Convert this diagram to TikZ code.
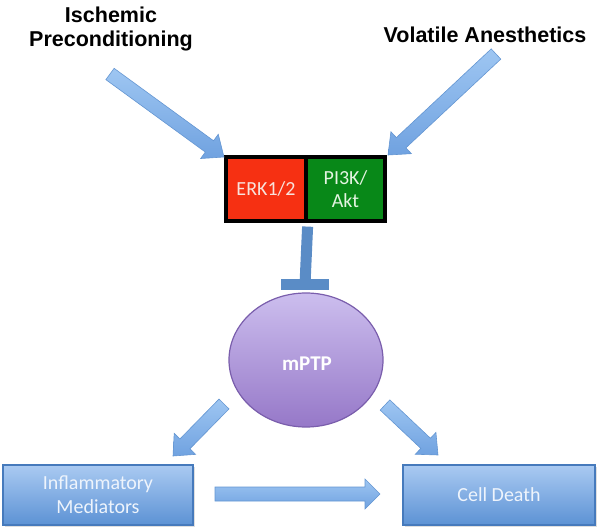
\documentclass[tikz,border=0pt]{standalone}
\usepackage{fontspec}
\setmainfont{Carlito}
\newfontfamily\hvb{Liberation Sans}
\usetikzlibrary{calc,shapes.geometric,shadows}
\definecolor{arrtop}{RGB}{158,198,242}
\definecolor{arrbot}{RGB}{112,162,224}
\definecolor{arredge}{RGB}{100,150,210}
\definecolor{boxtop}{RGB}{170,202,242}
\definecolor{boxbot}{RGB}{92,146,212}
\definecolor{boxedge}{RGB}{70,122,188}
\definecolor{boxtext}{RGB}{238,244,252}
\definecolor{elltop}{RGB}{204,190,238}
\definecolor{ellbot}{RGB}{150,120,200}
\definecolor{elledge}{RGB}{122,94,172}
\definecolor{erkred}{RGB}{246,48,18}
\definecolor{pigreen}{RGB}{8,136,24}
\definecolor{tbarblue}{RGB}{90,140,198}
\tikzset{
  barrow/.style={top color=arrtop, bottom color=arrbot, draw=arredge, line width=0.6pt, line join=miter},
  bbox/.style={rectangle, top color=boxtop, bottom color=boxbot, draw=boxedge, line width=1.2pt,
    text=boxtext, align=center, font=\fontsize{20}{24}\selectfont,
    drop shadow={opacity=0.25, shadow xshift=1.5pt, shadow yshift=-1.5pt}},
  kbox/.style={rectangle, draw=black, line width=3.2pt, minimum height=64pt, align=center,
    font=\fontsize{20}{23}\selectfont},
  tbar/.style={draw=tbarblue, line width=11pt},
  title/.style={font=\hvb\bfseries\fontsize{21.5}{24}\selectfont, align=center, inner sep=0pt}
}
\newcommand\blockarr[3]{%
  \coordinate (tmpN) at ($(#2)!#3!(#1)$);
  \shade[barrow] ($(#1)!7pt!90:(#2)$) -- ($(tmpN)!7pt!90:(#2)$) -- ($(tmpN)!15pt!90:(#2)$) -- (#2)
    -- ($(tmpN)!15pt!-90:(#2)$) -- ($(tmpN)!7pt!-90:(#2)$) -- ($(#1)!7pt!-90:(#2)$) -- cycle;}
\begin{document}
\begin{tikzpicture}[x=1pt,y=-1pt]
\useasboundingbox (0,0) rectangle (600,530);
% titles
\node[title] (isch) at (111,29) {Ischemic\\Preconditioning};
\node[title, anchor=base] (vol) at (485,42) {Volatile Anesthetics};
% kinase box
\node[kbox, fill=erkred, text={rgb,255:red,248;green,226;blue,220}, minimum width=80pt] (erk) at (266,189) {ERK1/2};
\node[kbox, fill=pigreen, text={rgb,255:red,228;green,244;blue,226}, minimum width=79pt] (pi) at (345.5,189) {PI3K/\\Akt};
% mPTP
\node[ellipse, top color=elltop, bottom color=ellbot, draw=elledge, line width=1.2pt,
  minimum width=154pt, minimum height=134pt, text=white, font=\bfseries\fontsize{21}{24}\selectfont] (mptp) at (306,360) {};
\node[font=\bfseries\fontsize{21}{24}\selectfont, text=white] (mptplabel) at (307,364) {mPTP};
% bottom boxes
\node[bbox, minimum width=190pt, minimum height=60pt] (infl) at (98,495) {Inflammatory\\Mediators};
\node[bbox, minimum width=192pt, minimum height=60pt] (death) at (499,495) {Cell Death};
% T-bar inhibition
\coordinate (tb) at (305,284.5);
\draw[tbar] ($(erk.south east)+(0,4)$) -- (tb);
\draw[tbar] ($(tb)+(-24,0)$) -- ($(tb)+(24,0)$);
% block arrows
\coordinate (a1s) at (110,74);  \coordinate (a1e) at (224,157);
\coordinate (a2s) at (496,54);  \coordinate (a2e) at (388,155);
\coordinate (a3s) at (224,404); \coordinate (a3e) at (173,456);
\coordinate (a4s) at (385,405); \coordinate (a4e) at (438,455);
\coordinate (a5s) at (215,494); \coordinate (a5e) at (380,494);
\blockarr{a1s}{a1e}{18pt}
\blockarr{a2s}{a2e}{18pt}
\blockarr{a3s}{a3e}{17pt}
\blockarr{a4s}{a4e}{17pt}
\blockarr{a5s}{a5e}{15pt}
\end{tikzpicture}
\end{document}
